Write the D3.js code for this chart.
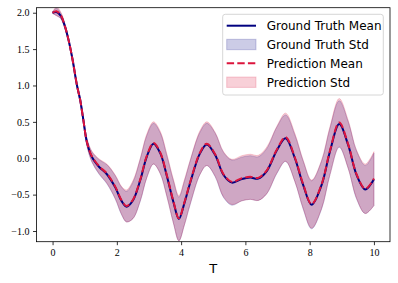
<!DOCTYPE html>
<html>
<head>
<meta charset="utf-8">
<script src="https://cdn.jsdelivr.net/npm/d3@7"></script>
<style>
  body { margin: 0; background: #fff; }
  .tick text { font-family: "Liberation Serif", serif; font-size: 10px; fill: #000; }
  .leg text { font-family: "DejaVu Sans", sans-serif; font-size: 12px; fill: #000; }
</style>
</head>
<body>
<svg id="chart" width="398" height="283"></svg>
<script>
// sample times
var T = [0, 0.12, 0.25, 0.38, 0.5, 0.62, 0.76, 0.86, 0.96, 1.07, 1.22, 1.45, 1.69, 1.95, 2.15, 2.3, 2.5, 2.73, 2.93, 3.14,
         3.35, 3.56, 3.76, 3.93, 4.1, 4.28, 4.59, 4.8, 5.06, 5.32, 5.58, 5.89, 6.15, 6.4, 6.66, 6.98, 7.25, 7.54, 7.8, 8.06,
         8.37, 8.63, 8.92, 9.2, 9.46, 9.73, 10.0];
var gtMean = [2.00, 2.01, 1.96, 1.82, 1.62, 1.36, 1.00, 0.80, 0.52, 0.22, 0.02, -0.12, -0.22, -0.40, -0.59, -0.665, -0.58, -0.30, 0.02, 0.20,
              0.07, -0.25, -0.60, -0.835, -0.62, -0.34, 0.07, 0.19, 0.045, -0.23, -0.335, -0.285, -0.265, -0.28, -0.18, 0.11, 0.275, 0.0, -0.37, -0.64,
              -0.37, 0.09, 0.47, 0.18, -0.23, -0.43, -0.29];
var gtStd = [0.01, 0.05, 0.04, 0.03, 0.03, 0.03, 0.03, 0.035, 0.04, 0.05, 0.07, 0.10, 0.13, 0.16, 0.19, 0.21, 0.25, 0.29, 0.29, 0.28,
             0.28, 0.28, 0.29, 0.30, 0.30, 0.30, 0.29, 0.29, 0.30, 0.31, 0.31, 0.30, 0.30, 0.30, 0.31, 0.32, 0.32, 0.32, 0.33, 0.33,
             0.33, 0.32, 0.32, 0.32, 0.33, 0.33, 0.36];
var predMean = [2.00, 2.02, 1.97, 1.82, 1.62, 1.36, 1.00, 0.80, 0.52, 0.22, 0.03, -0.11, -0.21, -0.39, -0.58, -0.655, -0.57, -0.29, 0.03, 0.21,
                0.08, -0.24, -0.59, -0.825, -0.61, -0.33, 0.08, 0.20, 0.055, -0.22, -0.325, -0.275, -0.255, -0.27, -0.17, 0.12, 0.29, 0.01, -0.36, -0.63,
                -0.36, 0.10, 0.49, 0.19, -0.22, -0.42, -0.28];
var predStd = [0.01, 0.06, 0.045, 0.035, 0.03, 0.03, 0.03, 0.035, 0.04, 0.05, 0.07, 0.10, 0.13, 0.16, 0.19, 0.22, 0.26, 0.29, 0.30, 0.29,
               0.29, 0.29, 0.30, 0.31, 0.31, 0.30, 0.30, 0.30, 0.30, 0.31, 0.31, 0.31, 0.31, 0.31, 0.32, 0.32, 0.33, 0.33, 0.33, 0.33,
               0.33, 0.33, 0.33, 0.33, 0.33, 0.34, 0.37];
var xTicks = [0, 2, 4, 6, 8, 10];
var yTicks = [-1.0, -0.5, 0.0, 0.5, 1.0, 1.5, 2.0];
var legendNames = ["Ground Truth Mean", "Ground Truth Std", "Prediction Mean", "Prediction Std"];

const pLeft = 36.5, pRight = 390, pTop = 7.7, pBottom = 241.7;

var svg = d3.select("#chart");
svg.append("rect").attr("width", 398).attr("height", 283).attr("fill", "#fff");

var x = d3.scaleLinear().domain([-0.5, 10.5]).range([pLeft, pRight]);
var y = d3.scaleLinear().domain([-1.147, 2.069]).range([pBottom, pTop]);

var gt = T.map(function(t, i) { return {t: t, m: gtMean[i], s: gtStd[i]}; });
var pr = T.map(function(t, i) { return {t: t, m: predMean[i], s: predStd[i]}; });

var curve = d3.curveCatmullRom.alpha(0.5);
var band = d3.area().curve(curve)
  .x(function(d) { return x(d.t); })
  .y0(function(d) { return y(d.m - d.s); })
  .y1(function(d) { return y(d.m + d.s); });
var mean = d3.line().curve(curve)
  .x(function(d) { return x(d.t); })
  .y(function(d) { return y(d.m); });

svg.append("clipPath").attr("id", "clip")
  .append("rect").attr("x", pLeft).attr("y", pTop).attr("width", pRight - pLeft).attr("height", pBottom - pTop);
var plot = svg.append("g").attr("clip-path", "url(#clip)");

plot.append("path").datum(gt).attr("d", band)
  .attr("fill", "navy").attr("fill-opacity", 0.2)
  .attr("stroke", "navy").attr("stroke-opacity", 0.2).attr("stroke-width", 1);
plot.append("path").datum(pr).attr("d", band)
  .attr("fill", "crimson").attr("fill-opacity", 0.2)
  .attr("stroke", "crimson").attr("stroke-opacity", 0.2).attr("stroke-width", 1);
plot.append("path").datum(gt).attr("d", mean)
  .attr("fill", "none").attr("stroke", "navy").attr("stroke-width", 2);
plot.append("path").datum(pr).attr("d", mean)
  .attr("fill", "none").attr("stroke", "crimson").attr("stroke-width", 2)
  .attr("stroke-dasharray", "7.4,3.2");

// axes
var xAxis = d3.axisBottom(x).tickValues(xTicks).tickSize(3.5).tickPadding(3.5).tickFormat(d3.format("d"));
var yAxis = d3.axisLeft(y).tickValues(yTicks).tickSize(3.5).tickPadding(3.5)
  .tickFormat(function(d) { return d3.format(".1f")(d).replace("-", "\u2212"); });

svg.append("g").attr("transform", "translate(0," + pBottom + ")").call(xAxis)
  .call(function(g) { g.select(".domain").remove(); });
svg.append("g").attr("transform", "translate(" + pLeft + ",0)").call(yAxis)
  .call(function(g) { g.select(".domain").remove(); });
svg.selectAll(".tick line").attr("stroke", "#000").attr("stroke-width", 0.8);

svg.append("rect").attr("x", pLeft).attr("y", pTop).attr("width", pRight - pLeft).attr("height", pBottom - pTop)
  .attr("fill", "none").attr("stroke", "#000").attr("stroke-width", 0.8);

svg.append("text").attr("x", (pLeft + pRight) / 2).attr("y", 273)
  .attr("text-anchor", "middle").style("font-family", "DejaVu Sans, sans-serif").style("font-size", "13px")
  .text("T");

// legend
var leg = svg.append("g").attr("class", "leg");
leg.append("rect").attr("x", 222.7).attr("y", 14.3).attr("width", 160.6).attr("height", 80.7)
  .attr("rx", 2.5).attr("fill", "#fff").attr("fill-opacity", 0.8).attr("stroke", "#ccc").attr("stroke-width", 0.8);
var rowY = [25.7, 44.5, 63.3, 82.2];
leg.append("line").attr("x1", 226.7).attr("x2", 256).attr("y1", rowY[0]).attr("y2", rowY[0])
  .attr("stroke", "navy").attr("stroke-width", 2);
leg.append("rect").attr("x", 226.7).attr("y", rowY[1] - 5.2).attr("width", 29.3).attr("height", 10.4)
  .attr("fill", "navy").attr("fill-opacity", 0.2).attr("stroke", "navy").attr("stroke-opacity", 0.2);
leg.append("line").attr("x1", 226.7).attr("x2", 256).attr("y1", rowY[2]).attr("y2", rowY[2])
  .attr("stroke", "crimson").attr("stroke-width", 2).attr("stroke-dasharray", "7.4,3.2");
leg.append("rect").attr("x", 226.7).attr("y", rowY[3] - 5.2).attr("width", 29.3).attr("height", 10.4)
  .attr("fill", "crimson").attr("fill-opacity", 0.2).attr("stroke", "crimson").attr("stroke-opacity", 0.2);
leg.selectAll("text.lab").data(legendNames).enter().append("text").attr("class", "lab")
  .attr("x", 266.7).attr("y", function(d, i) { return rowY[i] + 4.4; })
  .text(function(d) { return d; });
</script>
</body>
</html>
